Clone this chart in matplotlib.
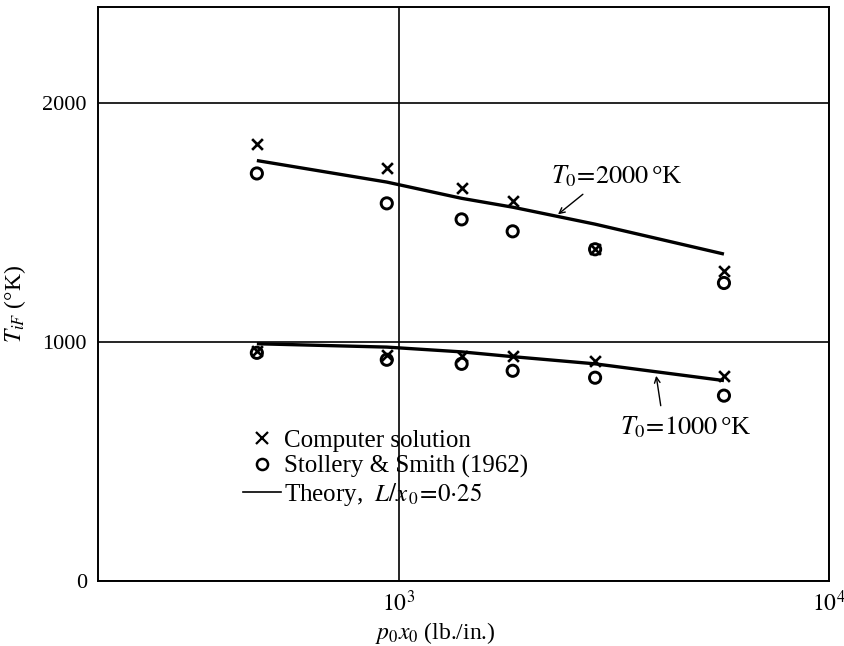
import matplotlib
matplotlib.use("Agg")
import matplotlib.pyplot as plt
import numpy as np
from matplotlib.lines import Line2D

plt.rcParams["font.family"] = ["Liberation Serif", "DejaVu Serif"]
plt.rcParams["mathtext.fontset"] = "stix"

# p0 x0 (lb./in.)
px = [468, 938, 1400, 1840, 2860, 5700]

# T0 = 2000 K
comp_2000 = [1829, 1725, 1642, 1588, 1387, 1296]
stol_2000 = [1704, 1579, 1512, 1462, 1387, 1246]
theory_2000 = [1758, 1668, 1600, 1563, 1492, 1367]

# T0 = 1000 K
comp_1000 = [960, 945, 942, 942, 921, 858]
stol_1000 = [954, 925, 908, 879, 850, 775]
theory_1000 = [992, 978, 958, 938, 908, 838]

fig = plt.figure(figsize=(8.45, 6.46), dpi=100)
ax = fig.add_axes([98 / 845, 65 / 646, 731 / 845, 574 / 646])

ax.plot(px, theory_2000, color="black", lw=2.4, solid_capstyle="butt")
ax.plot(px, theory_1000, color="black", lw=2.4, solid_capstyle="butt")
for comp, stol in ((comp_2000, stol_2000), (comp_1000, stol_1000)):
    ax.scatter(px, comp, marker="x", s=60, color="black", linewidths=1.9, zorder=3)
    ax.scatter(px, stol, marker="o", s=65, facecolors="none", edgecolors="black",
               linewidths=2.1, zorder=3)

ax.set_xscale("log")
ax.set_xlim(200, 1e4)
ax.set_ylim(0, 2400)
ax.set_xticks([1e3, 1e4])
ax.set_xticklabels([r"$10^3$", r"$10^4$"])
ax.xaxis.set_minor_locator(matplotlib.ticker.NullLocator())
ax.set_yticks([0, 1000, 2000])
ax.tick_params(length=0, labelsize=16, pad=8)
ax.tick_params(axis="x", labelsize=17, pad=7)
ax.grid(True, color="black", lw=1.2)
for s in ax.spines.values():
    s.set_linewidth(1.4)

ax.set_xlabel(r"$p_0x_0$ (lb./in.)", fontsize=17)
ax.xaxis.set_label_coords(0.462, -0.068)
ax.set_ylabel(r"$T_{iF}$ (°K)", fontsize=17)
ax.yaxis.set_label_coords(-0.096, 0.483)

# curve labels with arrows
ax.text(3214, 1692, r"$T_0\!=\!2000\,$°K", fontsize=19, ha="center", va="center")
ax.annotate("", xy=(2345, 1533), xytext=(2679, 1617),
            arrowprops=dict(arrowstyle="->", color="black", lw=1.0, shrinkA=0, shrinkB=0))
ax.text(4645, 642, r"$T_0\!=\!1000\,$°K", fontsize=19, ha="center", va="center")
ax.annotate("", xy=(3966, 858), xytext=(4064, 733),
            arrowprops=dict(arrowstyle="->", color="black", lw=1.0, shrinkA=0, shrinkB=0))

handles = [
    Line2D([], [], marker="x", ls="none", color="black", markersize=8, mew=1.6),
    Line2D([], [], marker="o", ls="none", mfc="none", mec="black", markersize=8, mew=1.8),
    Line2D([], [], color="black", lw=1.2),
]
labels = ["Computer solution", "Stollery & Smith (1962)", r"Theory,  $L/x_{\,0}\!=\!0{\cdot}25$"]
ax.legend(handles, labels, loc="upper left", bbox_to_anchor=(0.185, 0.282),
          frameon=False, fontsize=18, handlelength=1.5, handletextpad=0.15,
          labelspacing=0.12, borderaxespad=0)

fig.savefig("out.png", dpi=100)
